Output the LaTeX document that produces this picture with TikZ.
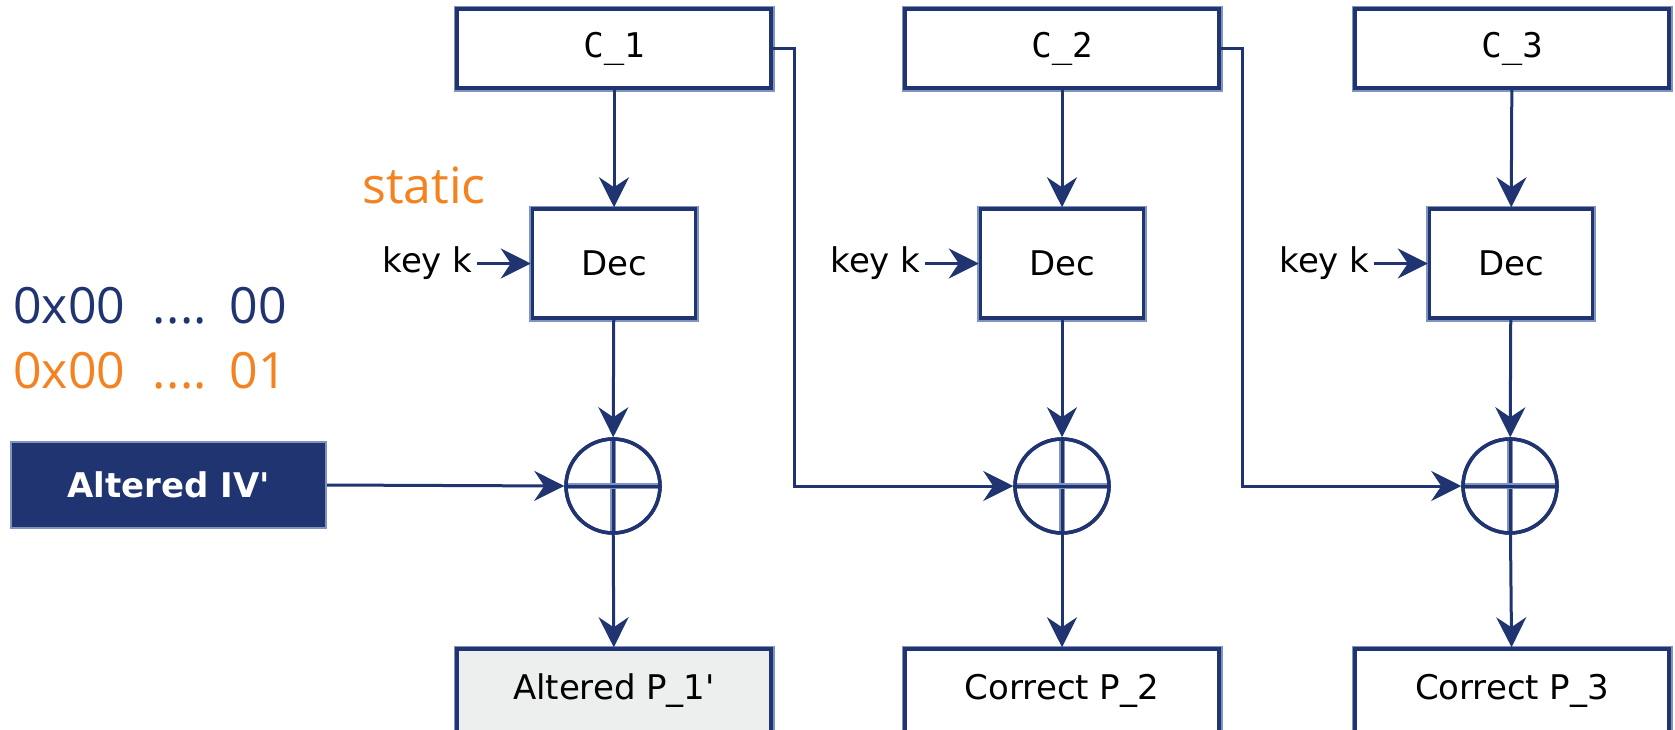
\documentclass[tikz,border=0pt]{standalone}
\usepackage{fontspec}
\setmainfont{DejaVu Sans}
\newfontfamily\monof{DejaVu Sans Mono}
\newfontfamily\latof{Open Sans}
\usetikzlibrary{arrows.meta,positioning}
\definecolor{navy}{RGB}{31,52,112}
\definecolor{halo}{RGB}{128,148,192}
\definecolor{orng}{RGB}{245,130,32}
\definecolor{lgray}{RGB}{237,238,238}
\newcommand{\dotrow}{\kern27.5pt.\kern0.4pt.\kern0.4pt.\kern0.4pt.\kern22.5pt}
\begin{document}
\begin{tikzpicture}[x=1pt,y=-1pt,
  blk/.style={draw=navy, line width=3.5pt, preaction={draw=halo,line width=7pt}, fill=white, inner sep=0pt, font=\fontsize{34}{40}\selectfont},
  cbox/.style={blk, minimum width=314pt, minimum height=79pt, font=\monof\fontsize{34}{40}\selectfont},
  decbox/.style={blk, minimum width=163pt, minimum height=109pt},
  pbox/.style={blk, minimum width=314pt, minimum height=84pt},
  xorc/.style={circle, draw=navy, line width=3.5pt, minimum size=94pt, inner sep=0pt},
  conn/.style={draw=navy, line width=3pt},
  arr/.style={conn, -{Stealth[length=30pt,width=30pt,inset=10pt]}},
  cross/.style={draw=navy, line width=3pt, preaction={draw=halo, line width=6pt}},
  keyl/.style={inner sep=0pt, font=\fontsize{34}{40}\selectfont},
  big/.style={inner sep=0pt, font=\latof\fontsize{50}{58}\selectfont}
]
\useasboundingbox (0,0) rectangle (1675,729);

% top cipher blocks
\node[cbox] (c1) at (614,48.5) {C\_1};
\node[cbox] (c2) at (1062,48.5) {C\_2};
\node[cbox] (c3) at (1512,48.5) {C\_3};

% decryption blocks
\node[decbox] (d1) at (614,263.5) {Dec};
\node[decbox] (d2) at (1062,263.5) {Dec};
\node[decbox] (d3) at (1511,263.5) {Dec};

% xor circles
\node[xorc] (x1) at (613,486) {};
\node[xorc] (x2) at (1062,486) {};
\node[xorc] (x3) at (1510,486) {};
\foreach \n in {x1,x2,x3}{
  \draw[cross] (\n.north) -- (\n.south);
  \draw[cross] (\n.west) -- (\n.east);
  \draw[draw=navy, line width=3.5pt] (\n) circle (47pt);
}

% bottom plaintext blocks
\node[pbox, fill=lgray] (p1) at (614,691) {Altered P\_1\textquotesingle};
\node[pbox] (p2) at (1062,691) {Correct P\_2};
\node[pbox] (p3) at (1512,691) {Correct P\_3};

% key labels
\node[keyl, left=58pt of d1] (k1) {key k};
\node[keyl, left=58pt of d2] (k2) {key k};
\node[keyl, left=58pt of d3] (k3) {key k};
\draw[arr, line width=2.5pt, shorten <=4pt] (k1) -- (d1);
\draw[arr, line width=2.5pt, shorten <=4pt] (k2) -- (d2);
\draw[arr, line width=2.5pt, shorten <=4pt] (k3) -- (d3);

% IV
\node[fill=navy, draw=halo, line width=2pt, minimum width=315pt, minimum height=86pt, inner sep=0pt, text=white, font=\bfseries\fontsize{34}{40}\selectfont] (iv) at (168.5,485) {Altered IV\textquotesingle};

% vertical flow
\draw[arr] (c1) -- (d1);
\draw[arr] (c2) -- (d2);
\draw[arr] (c3) -- (d3);
\draw[arr] (d1) -- (x1);
\draw[arr] (d2) -- (x2);
\draw[arr] (d3) -- (x3);
\draw[arr] (x1) -- (p1);
\draw[arr] (x2) -- (p2);
\draw[arr] (x3) -- (p3);

% chaining
\draw[arr] (iv.east) -- (x1.west);
\draw[arr] (c1.east) -- ++(22,0) |- (x2.west);
\draw[arr] (c2.east) -- ++(22,0) |- (x3.west);

% annotations
\node[big, anchor=base, text=orng] (st) at (424,203) {static};
\node[big, anchor=base west, text=navy] (z0) at (13,323) {0x00\dotrow 00};
\node[big, anchor=base west, text=orng] (z1) at (13,388) {0x00\dotrow 01};
\end{tikzpicture}
\end{document}
